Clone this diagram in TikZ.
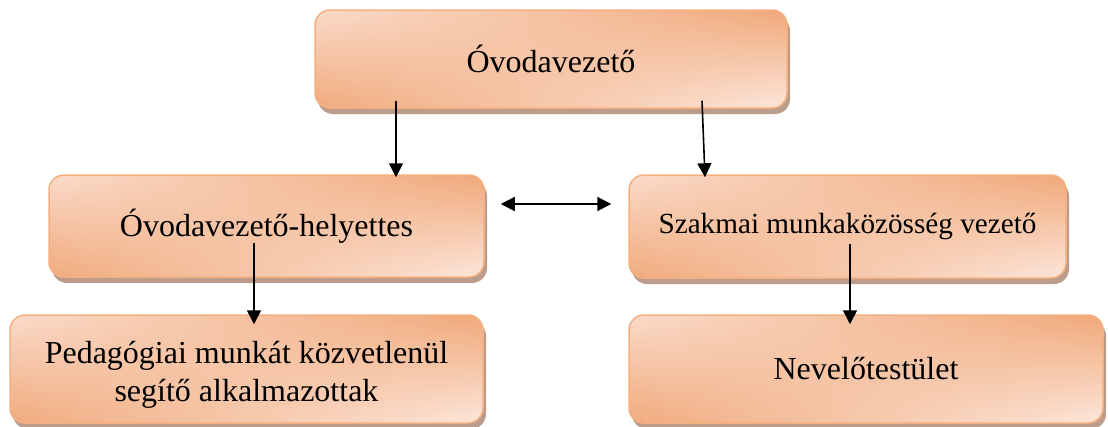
\documentclass[tikz,border=0pt]{standalone}
\usepackage{fontspec}
\setmainfont{Liberation Serif}
\usetikzlibrary{arrows.meta,shadows,shadings}
\definecolor{bordc}{HTML}{F4B081}
\definecolor{darkc}{HTML}{F0A879}
\definecolor{lightc}{HTML}{FCE6DA}
\definecolor{midc}{HTML}{F9D6C2}
\definecolor{shadc}{HTML}{BC9C8A}
\tikzset{
  box/.style={draw=bordc, line width=1.5pt, rounded corners=15pt,
    upper right=darkc, lower left=darkc!95!midc, upper left=midc!70!lightc, lower right=lightc,
    drop shadow={shadow xshift=3pt, shadow yshift=-6pt, fill=shadc, opacity=1},
    inner sep=0pt, align=center,
    font=\fontsize{32}{38}\selectfont},
  boxtext/.style={inner sep=0pt, align=center, font=\fontsize{32}{38}\selectfont},
  conn/.style={line width=1.6pt, -{Triangle[length=14pt,width=14pt]}},
  dconn/.style={line width=1.6pt, {Triangle[length=14pt,width=14pt]}-{Triangle[length=14pt,width=14pt]}}
}
\begin{document}
\begin{tikzpicture}[x=1pt,y=-1pt]
\useasboundingbox (0,0) rectangle (1108,426);
\node[box, minimum width=472pt, minimum height=98pt] (top) at (551,59) {Óvodavezető};
\node[box, minimum width=435pt, minimum height=102pt] (ml) at (266.5,226) {Óvodavezető-helyettes};
\node[box, minimum width=437pt, minimum height=103pt, font=\fontsize{29.2}{35}\selectfont] (mr) at (847.5,226.5) {Szakmai munkaközösség vezető};
\node[box, minimum width=473pt, minimum height=108pt] (bl) at (246.5,369) {};
\node[boxtext] (bltext) at ([yshift=-6pt]bl.center) {Pedagógiai munkát közvetlenül\\segítő alkalmazottak};
\node[box, minimum width=474pt, minimum height=108pt] (br) at (866,369) {Nevelőtestület};
\draw[conn] ([xshift=-155pt,yshift=8pt]top.south) -- ([xshift=129.5pt,yshift=-3pt]ml.north);
\draw[conn] ([xshift=151pt,yshift=8pt]top.south) -- ([xshift=-142.5pt,yshift=-3pt]mr.north);
\draw[conn] ([xshift=-12.5pt,yshift=-17pt]ml.center) -- ([xshift=7.5pt,yshift=-10pt]bl.north);
\draw[conn] ([xshift=2.5pt,yshift=-17pt]mr.center) -- ([xshift=-16pt,yshift=-10pt]br.north);
\draw[dconn] ([xshift=16pt,yshift=22pt]ml.east) -- ([xshift=-17pt,yshift=22.5pt]mr.west);
\end{tikzpicture}
\end{document}
